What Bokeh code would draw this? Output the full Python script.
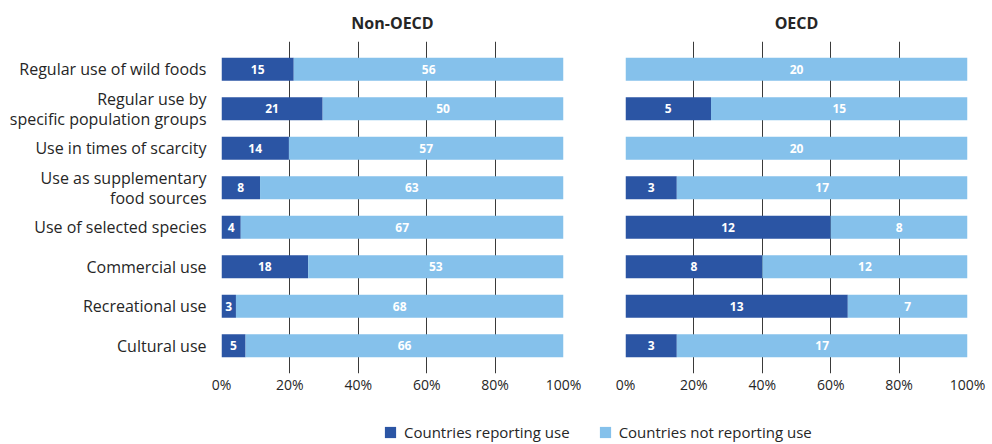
from bokeh.plotting import figure
from bokeh.models import (ColumnDataSource, FactorRange, Range1d, Legend, LegendItem,
                          PrintfTickFormatter, FixedTicker)
from bokeh.layouts import column, row
from bokeh.core.properties import value
from bokeh.embed import file_html
from bokeh.resources import INLINE

categories = ["Regular use of wild foods",
              "Regular use by\nspecific population groups",
              "Use in times of scarcity",
              "Use as supplementary\nfood sources",
              "Use of selected species",
              "Commercial use",
              "Recreational use",
              "Cultural use"]
non_oecd_reporting = [15, 21, 14, 8, 4, 18, 3, 5]
non_oecd_not_reporting = [56, 50, 57, 63, 67, 53, 68, 66]
oecd_reporting = [0, 5, 0, 3, 12, 8, 13, 3]
oecd_not_reporting = [20, 15, 20, 17, 8, 12, 7, 17]
tick_values = [0, 20, 40, 60, 80, 100]
panel_titles = ["Non-OECD", "OECD"]
series_names = ["Countries reporting use", "Countries not reporting use"]
colors = ["#2b55a4", "#85c1eb"]

FONT = "Open Sans"
TEXT = "#262626"
factors = categories[::-1]


def make_panel(title, rep, nrep, show_y, left, right):
    tot = [a + b for a, b in zip(rep, nrep)]
    rp = [100.0 * a / t for a, t in zip(rep, tot)]
    ne = [100.0 * (a + b) / t for a, b, t in zip(rep, nrep, tot)]
    src = ColumnDataSource(dict(
        cat=categories, rep=rp, nend=ne,
        rep_mid=[p / 2 for p in rp],
        nrep_mid=[(p + e) / 2 for p, e in zip(rp, ne)],
        rep_lab=[str(a) if a > 0 else "" for a in rep],
        nrep_lab=[str(b) if b > 0 else "" for b in nrep],
    ))
    p = figure(frame_width=342, frame_height=332, output_backend="svg",
               toolbar_location=None,
               x_range=Range1d(0, 100),
               y_range=FactorRange(factors=factors, range_padding=0.2,
                                   range_padding_units="absolute"),
               y_axis_location="left" if show_y else None,
               min_border_left=left, min_border_right=right,
               min_border_top=41, min_border_bottom=25,
               outline_line_color=None, title=title)
    p.title.align = "center"
    p.title.text_font = FONT
    p.title.text_font_size = "16px"
    p.title.text_font_style = "bold"
    p.title.text_color = TEXT
    p.title.standoff = 16

    p.hbar(y="cat", left=0, right="rep", height=0.58, fill_color=colors[0],
           line_color=None, source=src)
    p.hbar(y="cat", left="rep", right="nend", height=0.58, fill_color=colors[1],
           line_color=None, source=src)
    for xcol, tcol in (("rep_mid", "rep_lab"), ("nrep_mid", "nrep_lab")):
        p.text(x=xcol, y="cat", text=tcol, source=src, text_align="center",
               text_baseline="middle", text_color="white", text_font=value(FONT),
               text_font_style="bold", text_font_size="12px")

    p.xaxis.ticker = FixedTicker(ticks=tick_values)
    p.xaxis.formatter = PrintfTickFormatter(format="%d%%")
    p.xaxis.axis_line_color = None
    p.xaxis.major_tick_line_color = None
    p.xaxis.minor_tick_line_color = None
    p.xaxis.major_tick_out = 0
    p.xaxis.major_tick_in = 0
    p.xaxis.major_label_standoff = 1
    p.xaxis.major_label_text_font = FONT
    p.xaxis.major_label_text_font_size = "14px"
    p.xaxis.major_label_text_color = TEXT

    if show_y:
        p.yaxis.axis_line_color = None
        p.yaxis.major_tick_line_color = None
        p.yaxis.minor_tick_line_color = None
        p.yaxis.major_tick_out = 0
        p.yaxis.major_tick_in = 0
        p.yaxis.major_label_standoff = 15
        p.yaxis.major_label_text_font = FONT
        p.yaxis.major_label_text_font_size = "16px"
        p.yaxis.major_label_text_line_height = 0.9
        p.yaxis.major_label_text_color = TEXT

    p.xgrid.ticker = FixedTicker(ticks=tick_values)
    p.xgrid.grid_line_color = "#3a3a3a"
    p.xgrid.grid_line_width = 1
    p.ygrid.visible = False
    return p


p1 = make_panel(panel_titles[0], non_oecd_reporting, non_oecd_not_reporting, True, 221, 31)
p2 = make_panel(panel_titles[1], oecd_reporting, oecd_not_reporting, False, 31, 25)

leg = figure(width=992, height=46, output_backend="svg", toolbar_location=None,
             x_range=Range1d(0, 1), y_range=Range1d(0, 1), min_border=0,
             outline_line_color=None, x_axis_location=None, y_axis_location=None)
leg.grid.visible = False
items = []
for name, c in zip(series_names, colors):
    r = leg.hbar(y="y", left=0, right="right", height=0.5, fill_color=c, line_color=None,
                 source=ColumnDataSource(dict(y=[0], right=[0])))
    items.append(LegendItem(label=name, renderers=[r]))
legend = Legend(items=items, orientation="horizontal", location=(383, 2),
                border_line_color=None, background_fill_alpha=0, padding=0, margin=0,
                spacing=28, glyph_width=14, glyph_height=14, label_standoff=7,
                label_text_font=FONT, label_text_font_size="15px", label_text_color=TEXT)
leg.add_layout(legend)

layout = column(row(p1, p2), leg)
open("out.html", "w").write(file_html(layout, INLINE))
